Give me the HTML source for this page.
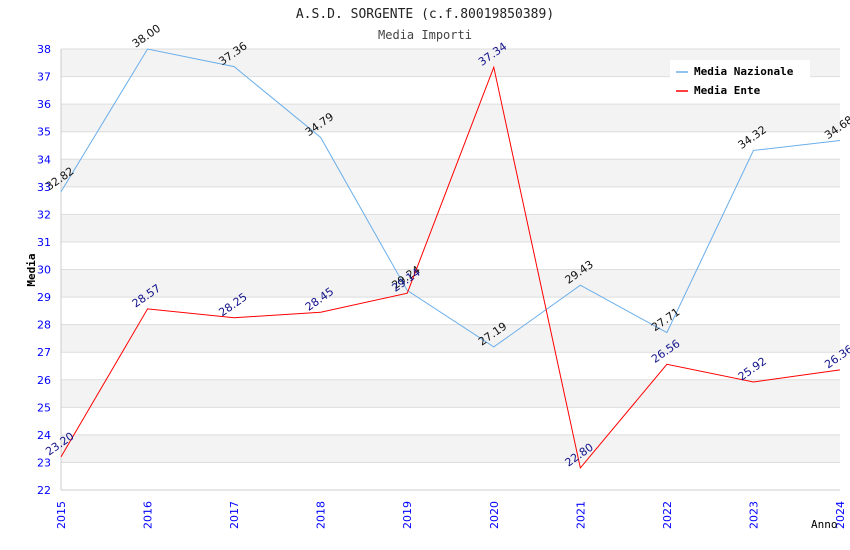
<!DOCTYPE html>
<html><head><meta charset="utf-8"><style>
body{margin:0;background:#fff;}
svg{display:block;font-family:"DejaVu Sans","Liberation Sans",sans-serif;}
</style></head><body>
<svg id="c" width="850" height="550">
<text x="425" y="18" text-anchor="middle" font-family="DejaVu Sans Mono,Liberation Mono,monospace" font-size="13" fill="#222">A.S.D. SORGENTE (c.f.80019850389)</text>
<text x="425" y="39" text-anchor="middle" font-family="DejaVu Sans Mono,Liberation Mono,monospace" font-size="12" fill="#444">Media Importi</text>
<g id="grid"></g><g id="axes"></g><g id="series"></g>
<g>
<rect x="670" y="60" width="140" height="40" fill="#fff"/>
<line x1="676" y1="72" x2="688" y2="72" stroke="#6aaeea" stroke-width="1.5"/>
<text x="694" y="75" font-family="DejaVu Sans Mono,Liberation Mono,monospace" font-size="11" font-weight="bold" fill="#000">Media Nazionale</text>
<line x1="676" y1="91" x2="688" y2="91" stroke="#f00" stroke-width="1.5"/>
<text x="694" y="94" font-family="DejaVu Sans Mono,Liberation Mono,monospace" font-size="11" font-weight="bold" fill="#000">Media Ente</text>
</g>
<text x="35" y="270" transform="rotate(-90 35 270)" text-anchor="middle" font-family="DejaVu Sans Mono,Liberation Mono,monospace" font-size="11" font-weight="bold" fill="#000">Media</text>
<text x="811" y="528" font-family="DejaVu Sans Mono,Liberation Mono,monospace" font-size="11" fill="#000">Anno</text>
</svg>
<script>
const years=["2015","2016","2017","2018","2019","2020","2021","2022","2023","2024"];
const nazionale=[32.82,38.00,37.36,34.79,29.24,27.19,29.43,27.71,34.32,34.68];
const ente=[23.20,28.57,28.25,28.45,29.14,37.34,22.80,26.56,25.92,26.36];
const yTicks=[22,23,24,25,26,27,28,29,30,31,32,33,34,35,36,37,38];
const NS="http://www.w3.org/2000/svg";
const L=61,R=840,T=49,B=490,ymin=22,ymax=38;
const xs=i=>L+i*(R-L)/(years.length-1);
const ys=v=>B-(v-ymin)*(B-T)/(ymax-ymin);
function mk(t,a,p){const e=document.createElementNS(NS,t);for(const k in a)e.setAttribute(k,a[k]);p.appendChild(e);return e;}
const grid=document.getElementById('grid'),axes=document.getElementById('axes'),ser=document.getElementById('series');
for(let v=ymin;v<ymax;v++){
 if(v%2==1){const r=mk('rect',{x:L,y:ys(v+1),width:R-L,height:ys(v)-ys(v+1),fill:'#f3f3f3'},grid);
 
 }
}
yTicks.forEach(v=>{
 const l=mk('line',{x1:L,x2:R,y1:ys(v),y2:ys(v),stroke:'#ddd'},grid);
 
 
 const t=mk('text',{x:L-10,y:ys(v)+4,'text-anchor':'end','font-size':11,fill:'#00f'},axes);
 t.textContent=v;
 
 
});
mk('line',{x1:L,x2:L,y1:T,y2:B,stroke:'#ccc'},axes);
mk('line',{x1:L,x2:R,y1:B,y2:B,stroke:'#ccc'},axes);
years.forEach((y,i)=>{
 const x=xs(i)+4,yy=529;
 const t=mk('text',{x:x,y:yy,transform:`rotate(-90 ${x} ${yy})`,'font-size':11,fill:'#00f'},axes);
 t.textContent=y;
 
 
});
function draw(arr,color,lc,name){
 const p=mk('polyline',{points:arr.map((v,i)=>xs(i)+','+ys(v)).join(' '),fill:'none',stroke:color,'stroke-width':1},ser);
 
 
 arr.forEach((v,i)=>{
  const x=xs(i)-12,y=ys(v)-1;
  const t=mk('text',{x:x,y:y,transform:`rotate(-35 ${x} ${y})`,'font-size':11,fill:lc},ser);
  t.textContent=v.toFixed(2);
  
  
 });
}
draw(nazionale,'#6aaeea','#111','nazionale');
draw(ente,'#f00','#11118a','ente');
</script>
</body></html>
